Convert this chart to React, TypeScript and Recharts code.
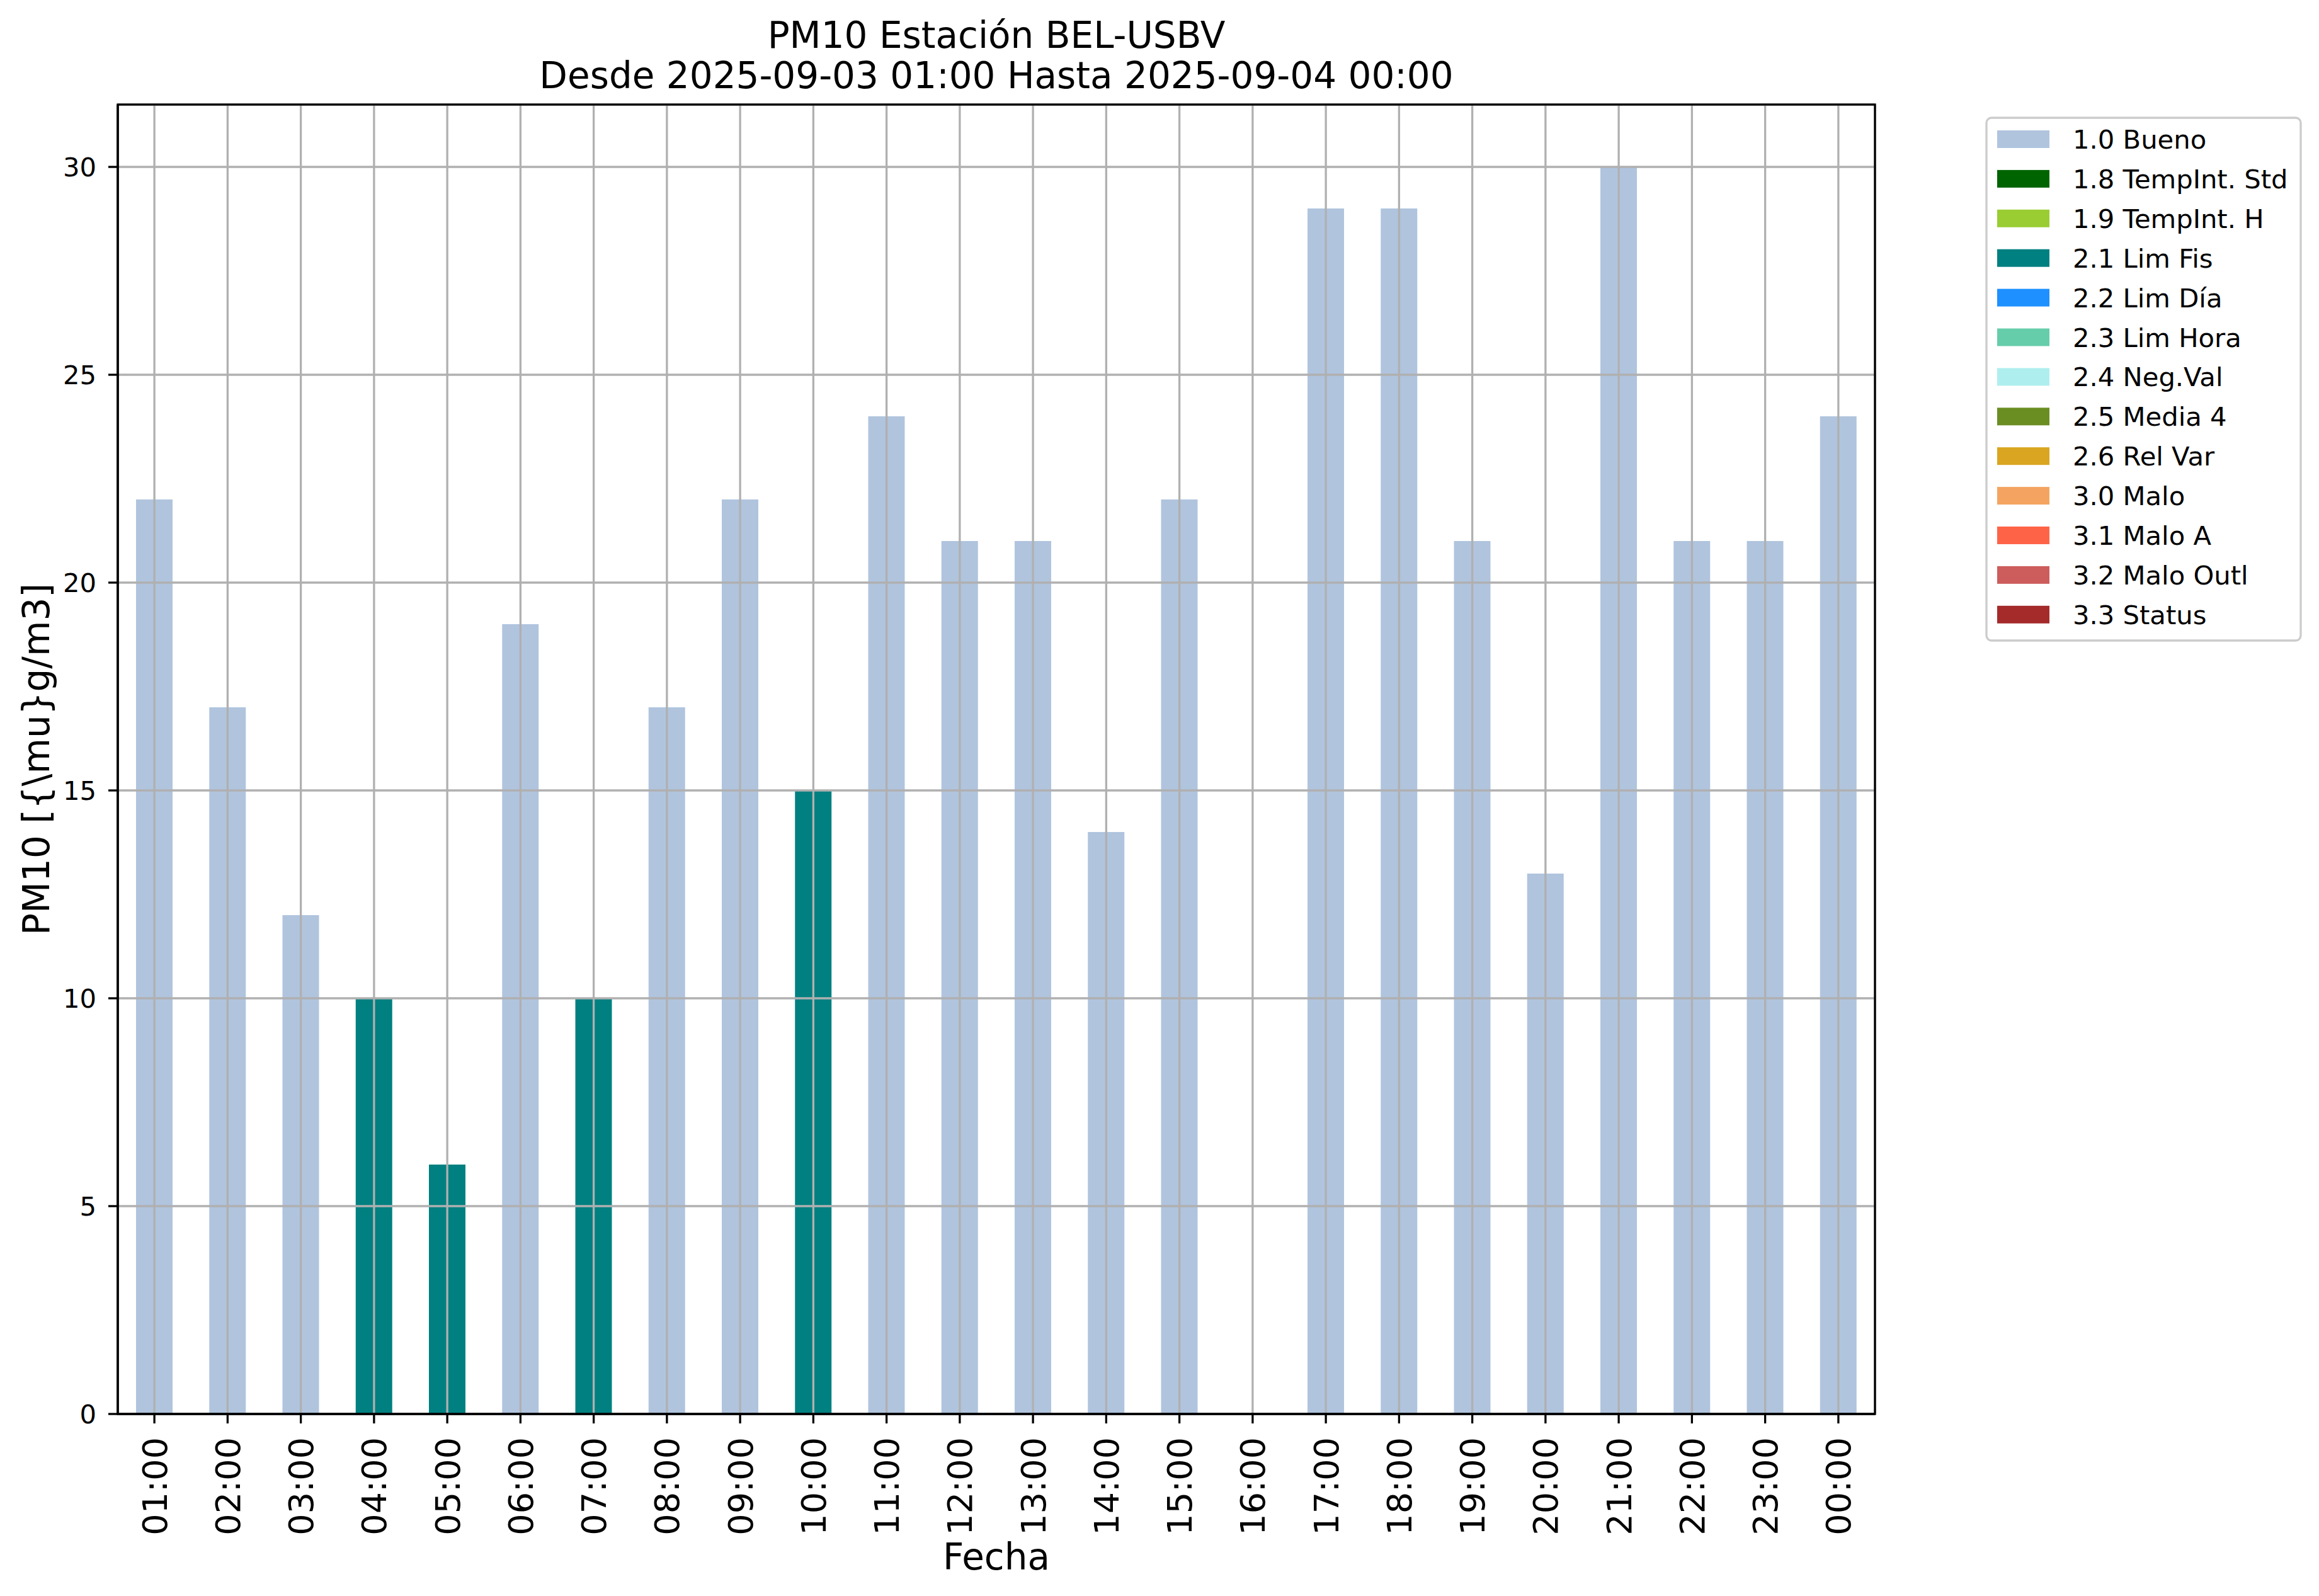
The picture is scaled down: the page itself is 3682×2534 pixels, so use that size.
import React from "react";
import { BarChart, Bar, XAxis, YAxis, CartesianGrid } from "recharts";

// hourly categories
const hours = [
  "01:00", "02:00", "03:00", "04:00", "05:00", "06:00", "07:00", "08:00",
  "09:00", "10:00", "11:00", "12:00", "13:00", "14:00", "15:00", "16:00",
  "17:00", "18:00", "19:00", "20:00", "21:00", "22:00", "23:00", "00:00",
];

// PM10 values flagged "1.0 Bueno"
const bueno = [
  22, 17, 12, null, null, 19, null, 17, 22, null, 24, 21,
  21, 14, 22, null, 29, 29, 21, 13, 30, 21, 21, 24,
];

// PM10 values flagged "2.1 Lim Fis"
const limFis = [
  null, null, null, 10, 6, null, 10, null, null, 15, null, null,
  null, null, null, null, null, null, null, null, null, null, null, null,
];

const legendNames = [
  "1.0 Bueno", "1.8 TempInt. Std", "1.9 TempInt. H", "2.1 Lim Fis",
  "2.2 Lim Día", "2.3 Lim Hora", "2.4 Neg.Val", "2.5 Media 4",
  "2.6 Rel Var", "3.0 Malo", "3.1 Malo A", "3.2 Malo Outl", "3.3 Status",
];
const legendColors = [
  "#b0c4de", "#006400", "#9acd32", "#008080",
  "#1e90ff", "#66cdaa", "#afeeee", "#6b8e23",
  "#daa520", "#f4a460", "#ff6347", "#cd5c5c", "#a52a2a",
];

const yTicks = [0, 5, 10, 15, 20, 25, 30];

const W = 3682;
const H = 2534;
const FONT = "DejaVu Sans";
// plot frame (matplotlib axes box)
const PL = 187, PT = 166, PR = 2977, PB = 2245;
const Y_AXIS_W = 120;
const X_AXIS_H = 200;

const data = hours.map((h, i) => ({ hour: h, bueno: bueno[i], limFis: limFis[i] }));

function HourTick(props: any) {
  const { x, y, payload } = props;
  return (
    <text
      x={x}
      y={y}
      transform={`rotate(-90, ${x}, ${y})`}
      textAnchor="end"
      dy="0.36em"
      fontSize={54}
      fontFamily={FONT}
      fill="#000"
    >
      {payload.value}
    </text>
  );
}

export default function App() {
  const legendTop = 187;
  const rowGap = 62.9;

  return (
    <div style={{ position: "absolute", left: 0, top: 0, width: W, height: H, background: "#fff" }}>
      <BarChart
        width={W}
        height={H}
        data={data}
        margin={{ top: PT, right: W - PR, left: PL - Y_AXIS_W, bottom: H - PB - X_AXIS_H }}
        barSize={58}
      >
        <XAxis
          dataKey="hour"
          height={X_AXIS_H}
          interval={0}
          tick={<HourTick />}
          tickSize={15}
          tickMargin={22}
          axisLine={{ stroke: "#000", strokeWidth: 3.3 }}
          tickLine={{ stroke: "#000", strokeWidth: 3.3 }}
        />
        <YAxis
          width={Y_AXIS_W}
          domain={[0, 31.5]}
          ticks={yTicks}
          allowDataOverflow
          tickSize={15}
          tickMargin={19}
          tick={{ fontSize: 41.7, fill: "#000", fontFamily: FONT }}
          axisLine={{ stroke: "#000", strokeWidth: 3.3 }}
          tickLine={{ stroke: "#000", strokeWidth: 3.3 }}
        />
        <Bar dataKey="bueno" stackId="a" fill="#b0c4de" isAnimationActive={false} />
        <Bar dataKey="limFis" stackId="a" fill="#008080" isAnimationActive={false} />
        <CartesianGrid stroke="#b0b0b0" strokeWidth={3.3} zIndex={350} />
      </BarChart>

      <svg
        width={W}
        height={H}
        style={{ position: "absolute", left: 0, top: 0, pointerEvents: "none" }}
        fontFamily={FONT}
      >
        {/* axes frame */}
        <rect x={PL} y={PT} width={PR - PL} height={PB - PT} fill="none" stroke="#000" strokeWidth={3.3} />

        {/* title */}
        <text x={(PL + PR) / 2} y={76} textAnchor="middle" fontSize={58} fill="#000">
          PM10 Estación BEL-USBV
        </text>
        <text x={(PL + PR) / 2} y={140} textAnchor="middle" fontSize={58} fill="#000">
          Desde 2025-09-03 01:00 Hasta 2025-09-04 00:00
        </text>

        {/* axis labels */}
        <text x={(PL + PR) / 2} y={2492} textAnchor="middle" fontSize={58} fill="#000">
          Fecha
        </text>
        <text
          x={78}
          y={(PT + PB) / 2}
          transform={`rotate(-90, 78, ${(PT + PB) / 2})`}
          textAnchor="middle"
          fontSize={58}
          fill="#000"
        >
          PM10 [{"{\\mu}"}g/m3]
        </text>

        {/* legend */}
        <rect
          x={3154}
          y={legendTop}
          width={499}
          height={830}
          rx={8}
          fill="#fff"
          fillOpacity={0.8}
          stroke="#cccccc"
          strokeWidth={3.3}
        />
        {legendNames.map((name, i) => {
          const cy = legendTop + 34 + i * rowGap;
          return (
            <g key={name}>
              <rect x={3171} y={cy - 14} width={83} height={28} fill={legendColors[i]} />
              <text x={3291} y={cy + 15} fontSize={41.7} fill="#000">
                {name}
              </text>
            </g>
          );
        })}
      </svg>
    </div>
  );
}
